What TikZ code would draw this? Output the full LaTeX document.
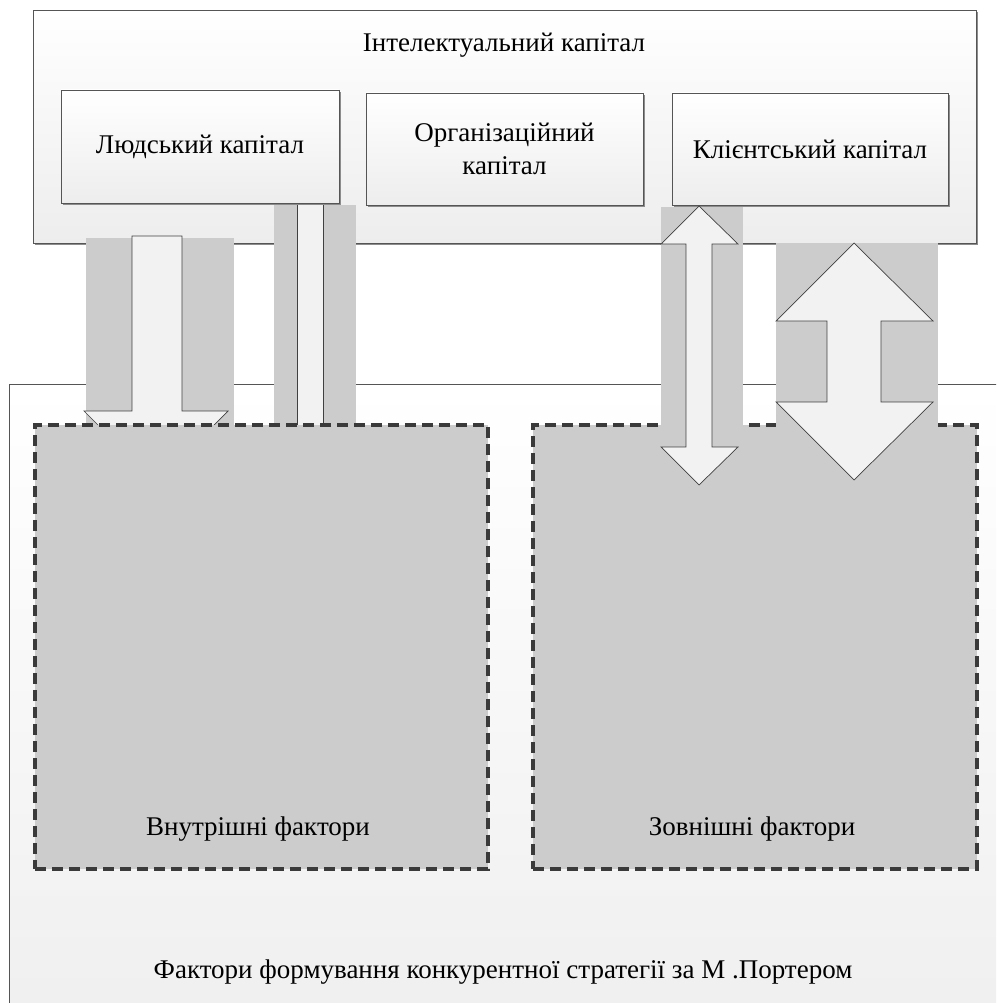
\documentclass[tikz,border=0pt]{standalone}
\usepackage{fontspec}
\setmainfont{Liberation Serif}
\usetikzlibrary{shadows}
\definecolor{bggray}{HTML}{CCCCCC}
\definecolor{arrowfill}{HTML}{F2F2F2}
\definecolor{edge}{HTML}{555555}
\definecolor{dashc}{HTML}{3A3A3A}
\begin{document}
\begin{tikzpicture}[x=1pt,y=-1pt,
  txt/.style={font=\fontsize{27}{33}\selectfont, text=black, align=center},
  panel/.style={draw=edge, line width=0.8pt, top color=white, bottom color=black!7,
    drop shadow={shadow xshift=2pt, shadow yshift=-2pt, fill=black!45, opacity=1}},
  capbox/.style={panel, txt, inner sep=0pt},
  factorbox/.style={fill=bggray, draw=dashc, line width=3.4pt, dash pattern=on 11pt off 6pt, inner sep=0pt},
  bgband/.style={fill=bggray, draw=none},
  blockarrow/.style={fill=arrowfill, draw=black!75, line width=0.7pt, line join=miter},
]
\useasboundingbox (0,0) rectangle (996,1003);
\clip (0,0) rectangle (996,1003);

% outer lower frame
\path[top color=white, bottom color=black!6, draw=edge, line width=0.8pt]
  (1010,384) -- (9,384) -- (9,1010) -- (1010,1010);
\node[txt] (porter) at (503,972) {Фактори формування конкурентної стратегії за М .Портером};

% intellectual capital container
\node[panel, minimum width=943pt, minimum height=233pt, inner sep=0pt] (ic) at (504.5,126.5) {};
\node[txt] (ictitle) at (504,45) {Інтелектуальний капітал};

% bands on the left
\path[bgband] (86,238) rectangle (234,430);
\path[bgband] (274,205) rectangle (356,430);

% left down arrow
\path[blockarrow] (132,236) -- (182,236) -- (182,411) -- (228,411) -- (156,483) -- (84,411) -- (132,411) -- cycle;
% thin middle shaft
\path[fill=arrowfill] (297,195) rectangle (323,440);
\draw[black!75, line width=0.7pt] (297,195) -- (297,440) (323,195) -- (323,440);

% capital boxes
\node[capbox, minimum width=278pt, minimum height=113pt] (hum) at (200,146.5) {Людський капітал};
\node[capbox, minimum width=277pt, minimum height=112pt] (org) at (504.5,149) {Організаційний\\капітал};
\node[capbox, minimum width=276pt, minimum height=112pt] (cli) at (810,149) {Клієнтський капітал};

% factor boxes
\node[factorbox, minimum width=453pt, minimum height=444pt] (inner) at (261.5,647) {};
\node[txt] (innert) at (258,829) {Внутрішні фактори};
\node[factorbox, minimum width=444pt, minimum height=444pt] (outer) at (755,647) {};
\node[txt] (outert) at (752,829) {Зовнішні фактори};

% right bands and double arrows
\path[bgband] (661,207) rectangle (743,430);
\path[bgband] (776,243) rectangle (938,430);
\path[blockarrow] (699,206) -- (738,244) -- (712,244) -- (712,447) -- (738,447) -- (699,485)
  -- (661,447) -- (686,447) -- (686,244) -- (661,244) -- cycle;
\path[blockarrow] (854,243) -- (933,321) -- (881,321) -- (881,402) -- (933,402) -- (854,480)
  -- (776,402) -- (827,402) -- (827,321) -- (776,321) -- cycle;
\end{tikzpicture}
\end{document}
